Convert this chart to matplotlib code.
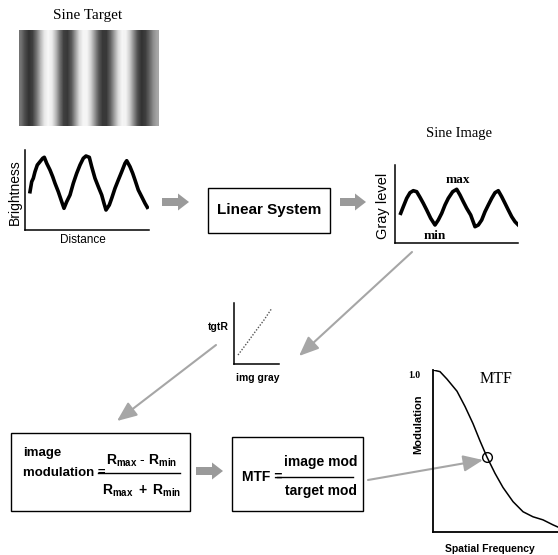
import matplotlib
matplotlib.use('Agg')
import matplotlib.pyplot as plt
import numpy as np
from matplotlib.patches import Rectangle, FancyArrow

plt.rcParams['mathtext.fontset'] = 'custom'
plt.rcParams['mathtext.rm'] = 'Liberation Sans'
plt.rcParams['mathtext.bf'] = 'Liberation Sans:bold'
plt.rcParams['mathtext.it'] = 'Liberation Sans:italic'

# ---------------- data ----------------
# brightness across the sine target (0 = black, 1 = white), left to right
target_profile = [0.45, 0.30, 0.20, 0.25, 0.45, 0.70, 0.90, 0.97, 0.92, 0.72,
                  0.45, 0.25, 0.22, 0.35, 0.60, 0.85, 0.96, 0.96, 0.82, 0.58,
                  0.35, 0.22, 0.22, 0.38, 0.62, 0.85, 0.96, 0.95, 0.80, 0.55,
                  0.32, 0.20, 0.24, 0.38, 0.55, 0.65]

brightness_dist = [5.0, 6.7, 8.3, 10, 12.3, 15, 17.7, 19.3, 21.7, 25, 27.7, 30,
                   33.3, 36.7, 39, 41.7, 45, 48.3, 51.7, 55, 58.3, 61, 64.3, 66.7,
                   70, 73.3, 76.7, 79, 81, 84.3, 86.7, 90, 93.3, 96.7, 100, 101.7,
                   105, 107.7, 110, 113.3, 116.7, 120, 122.3]
brightness_val = [38.3, 48.3, 51.7, 58.3, 65, 68.3, 71.7, 72.7, 66.7, 60, 53.3, 46.7,
                  38.3, 28.3, 21.7, 28.3, 35, 46.7, 56.7, 65, 71.7, 74, 72.7, 63.3,
                  51.7, 43.3, 35, 26.7, 20, 25, 31.7, 41.7, 50, 58.3, 66.7, 69.3,
                  63.3, 56.7, 50, 40, 33.3, 26.7, 22.7]

image_dist = [5.7, 8.3, 11.7, 15, 18.3, 21.7, 25, 28.3, 31.7, 35.7, 40, 43.3, 46.7,
              50, 53.3, 57.7, 61.7, 65, 68.3, 71.7, 75.7, 80, 83.3, 86.7, 90, 93.3,
              96.7, 100, 103.3, 106.7, 110, 113.3, 116.7, 120, 123.3]
image_gray = [29.7, 36.3, 44.7, 50.3, 52.3, 51.3, 45.7, 39.7, 33, 24.7, 18, 23, 29.7,
              38, 44.7, 51.3, 53.7, 48, 41.3, 34.7, 28, 16.3, 18, 23, 31.3, 38,
              44.7, 50.3, 52.3, 46.3, 39.7, 33, 26.3, 21.3, 18]

calib_gray = [4, 13, 21, 30, 38]
calib_tgtR = [9, 21, 32, 44, 56]

mtf_freq = [0, 0.055, 0.11, 0.189, 0.252, 0.315, 0.37, 0.425, 0.488, 0.551,
            0.63, 0.709, 0.787, 0.866, 0.945, 1.0]
mtf_mod = [1.0, 0.99, 0.944, 0.869, 0.775, 0.669, 0.5625, 0.4625, 0.3625, 0.275,
           0.1875, 0.125, 0.094, 0.075, 0.044, 0.025]
mtf_marked = 7  # index of the circled point

# ---------------- layout ----------------
W, H = 558, 555
fig = plt.figure(figsize=(W / 100, H / 100), dpi=100)
base = fig.add_axes([0, 0, 1, 1])
base.set_xlim(0, W)
base.set_ylim(H, 0)
base.axis('off')

SANS = 'Liberation Sans'
SERIF = 'Liberation Serif'


def px_axes(x0, y0, x1, y1):
    return fig.add_axes([x0 / W, 1 - y1 / H, (x1 - x0) / W, (y1 - y0) / H])


def style_plot(ax):
    for s in ['top', 'right']:
        ax.spines[s].set_visible(False)
    for s in ['left', 'bottom']:
        ax.spines[s].set_linewidth(1.1)
    ax.set_xticks([])
    ax.set_yticks([])
    ax.patch.set_alpha(0)


# Sine target picture
base.text(88, 15, 'Sine Target', family=SERIF, fontsize=11, ha='center', va='center')
ax_t = px_axes(19, 30, 159, 126)
ax_t.imshow(np.tile(np.array(target_profile), (8, 1)), cmap='gray', vmin=0, vmax=1,
            aspect='auto', interpolation='bilinear')
ax_t.axis('off')

# Brightness plot
ax_b = px_axes(25, 150, 149, 230)
ax_b.plot(brightness_dist, brightness_val, color='black', lw=2.6)
ax_b.set_xlim(0, 124)
ax_b.set_ylim(0, 80)
style_plot(ax_b)
base.text(15, 192, 'Brightness', family=SANS, fontsize=10, rotation=90, ha='center', va='center')
base.text(83, 240, 'Distance', family=SANS, fontsize=8.5, ha='center', va='center')

# block arrows
gray_block = '#9a9a9a'
for (x0, x1, y) in [(162, 189, 202), (340, 366, 202), (196, 223, 471)]:
    base.add_patch(FancyArrow(x0, y, x1 - x0, 0, width=8, head_width=17, head_length=11,
                              length_includes_head=True, color=gray_block, lw=0))

# Linear system box
base.add_patch(Rectangle((208, 188), 122, 45, fill=False, lw=1.0, ec='black'))
base.text(269, 210, 'Linear System', family=SANS, fontsize=11, fontweight='bold',
          ha='center', va='center')

# Sine image
base.text(459, 133, 'Sine Image', family=SERIF, fontsize=10.5, ha='center', va='center')
ax_s = px_axes(395, 165, 518, 243)
ax_s.plot(image_dist, image_gray, color='black', lw=2.6)
ax_s.set_xlim(0, 123)
ax_s.set_ylim(0, 78)
style_plot(ax_s)
base.text(383, 206, 'Gray level', family=SANS, fontsize=10.5, rotation=90, ha='center', va='center')
base.text(458, 180, 'max', family=SERIF, fontsize=9.5, fontweight='bold', ha='center', va='center')
base.text(435, 236, 'min', family=SERIF, fontsize=9.5, fontweight='bold', ha='center', va='center')

# thin gray arrows
thin = dict(arrowstyle='-|>,head_length=0.6,head_width=0.25', color='#a6a6a6', lw=1.5,
            shrinkA=0, shrinkB=0, mutation_scale=20)
base.annotate('', xy=(299, 356), xytext=(412, 252), arrowprops=thin)
base.annotate('', xy=(117, 421), xytext=(216, 345), arrowprops=thin)
base.annotate('', xy=(483, 460), xytext=(368, 480), arrowprops=thin)

# calibration plot
ax_c = px_axes(234, 303, 279, 364)
ax_c.plot(calib_gray, calib_tgtR, color='#555555', lw=1.0, linestyle=(0, (1, 1.2)))
ax_c.set_xlim(0, 45)
ax_c.set_ylim(0, 61)
style_plot(ax_c)
base.text(218, 327, 'tgtR', family=SANS, fontsize=7.5, fontweight='bold', ha='center', va='center')
base.text(258, 378, 'img gray', family=SANS, fontsize=7.5, fontweight='bold', ha='center', va='center')

# image modulation box
base.add_patch(Rectangle((11, 433), 179, 78, fill=False, lw=1.0, ec='black'))
base.text(23, 453, 'image', family=SANS, fontsize=9.5, fontweight='bold', ha='left', va='center')
base.text(23, 473, 'modulation =', family=SANS, fontsize=9.5, fontweight='bold', ha='left', va='center')
base.plot([98, 180], [473, 473], color='black', lw=1.0)
base.text(142, 461, r'$\mathbf{R_{max}\ \text{-}\ R_{min}}$', fontsize=10, ha='center', va='center')
base.text(142, 491, r'$\mathbf{R_{max}\ +\ R_{min}}$', fontsize=10, ha='center', va='center')

# MTF box
base.add_patch(Rectangle((232, 437), 131, 74, fill=False, lw=1.0, ec='black'))
base.text(242, 477, 'MTF =', family=SANS, fontsize=10, fontweight='bold', ha='left', va='center')
base.plot([277, 353], [477, 477], color='black', lw=1.0)
base.text(321, 462, 'image mod', family=SANS, fontsize=10, fontweight='bold', ha='center', va='center')
base.text(321, 491, 'target mod', family=SANS, fontsize=10, fontweight='bold', ha='center', va='center')

# MTF plot
ax_m = px_axes(433, 370, 560, 532)
ax_m.plot(mtf_freq, mtf_mod, color='black', lw=1.1)
ax_m.plot([mtf_freq[mtf_marked]], [mtf_mod[mtf_marked]], marker='o', ms=7, mfc='none',
          mec='black', mew=1.0)
ax_m.set_xlim(0, 1)
ax_m.set_ylim(0, 1.0)
style_plot(ax_m)
for s in ['left', 'bottom']:
    ax_m.spines[s].set_linewidth(1.3)
base.text(414, 376, '1.0', family=SERIF, fontsize=7, fontweight='bold', ha='center', va='center')
base.text(496, 379, 'MTF', family=SERIF, fontsize=11.5, ha='center', va='center')
base.text(418, 424, 'Modulation', family=SANS, fontsize=8, fontweight='bold', rotation=90,
          ha='center', va='center')
base.text(490, 549, 'Spatial Frequency', family=SANS, fontsize=7.5, fontweight='bold',
          ha='center', va='center')

fig.savefig('out.png', dpi=100)
